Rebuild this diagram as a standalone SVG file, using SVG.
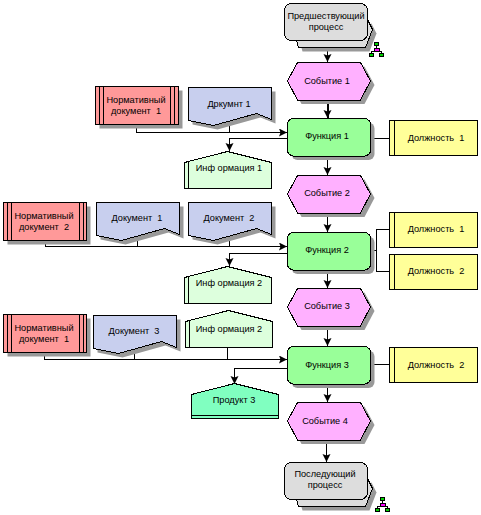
<svg xmlns="http://www.w3.org/2000/svg" width="481" height="515" viewBox="0 0 481 515">
<style>
text{font-family:"Liberation Sans",Arial,sans-serif;font-size:9.2px;fill:#000;text-anchor:middle;white-space:pre}
.o{stroke:#000;stroke-width:1;shape-rendering:crispEdges}
.sh{fill:#999;stroke:none}
.ln{fill:none;stroke:#000;stroke-width:1;shape-rendering:crispEdges}
.ev{fill:#ffb0ff}.fn{fill:#99ff99}.doc{fill:#c8cfee}.nd{fill:#ff9999}.ps{fill:#dddddd}.inf{fill:#ddffdd}.pos{fill:#ffff99}.pr{fill:#80ffc0}
</style>
<defs>
<marker id="a" markerUnits="userSpaceOnUse" markerWidth="10" markerHeight="10" refX="8" refY="4" orient="auto"><path d="M0 0L8 4L0 8L1.500 4Z" fill="#000"/></marker>
<path id="hex" d="M0 18.500L10 0H73L83 18.500L73 37.500H10Z"/>
<rect id="fnp" width="83" height="37.500" rx="6"/>
<path id="docp" d="M0 0H83V32L68 26L25 38L0 33Z"/>
<rect id="ndp" width="83" height="38"/>
<path id="psb" d="M12 37L14 44H81L88 26L83 16Z"/>
<rect id="psf" width="83" height="37" rx="7"/>
<path id="inf" d="M0 11L43 0L87 11V37H0Z"/>
<g id="icon">
<path d="M7.500 3V7M2.500 11V9.500H12.500V11" fill="none" stroke="#000" shape-rendering="crispEdges"/>
<rect x="5.500" y="0.500" width="4" height="3" fill="#00d000" stroke="#000" shape-rendering="crispEdges"/>
<rect x="5.500" y="6.500" width="5" height="3" fill="#ff00ff" stroke="#000" shape-rendering="crispEdges"/>
<rect x="0.500" y="11.500" width="4" height="3" fill="#00d000" stroke="#000" shape-rendering="crispEdges"/>
<rect x="10.500" y="11.500" width="4" height="3" fill="#00d000" stroke="#000" shape-rendering="crispEdges"/>
</g>
</defs>

<g id="connectors">
<path class="ln" d="M327.500 40V62" marker-end="url(#a)"/>
<path class="ln" d="M327.500 99V118" style="stroke-width:2" marker-end="url(#a)"/>
<path class="ln" d="M327.500 156V175" marker-end="url(#a)"/>
<path class="ln" d="M327.500 213V232" marker-end="url(#a)"/>
<path class="ln" d="M327.500 269V288" marker-end="url(#a)"/>
<path class="ln" d="M327.500 326V346" marker-end="url(#a)"/>
<path class="ln" d="M327.500 384V402" marker-end="url(#a)"/>
<path class="ln" d="M326.500 441V462" marker-end="url(#a)"/>
<path class="ln" d="M136.500 124V132.500H287" marker-end="url(#a)"/>
<path class="ln" d="M229.500 120V132.500"/>
<path class="ln" d="M287 138.500H229.500V151" marker-end="url(#a)"/>
<path class="ln" d="M370 138.500H389"/>
<path class="ln" d="M45.500 240V246.500H287" marker-end="url(#a)"/>
<path class="ln" d="M137.500 234V246.500M229.500 234V246.500"/>
<path class="ln" d="M287 253.500H229.500V266" marker-end="url(#a)"/>
<path class="ln" d="M370 250.500H376.500M389 229.500H376.500V271.500H389"/>
<path class="ln" d="M44.500 353V359.500H287" marker-end="url(#a)"/>
<path class="ln" d="M134.500 347V359.500M227.500 348V359.500"/>
<path class="ln" d="M287 368.500H234.500V384" marker-end="url(#a)"/>
<path class="ln" d="M370 364.500H389"/>
</g>

<g id="n-prev">
<use href="#psb" class="sh" transform="translate(288.500 7.500)"/>
<use href="#psb" class="ps o" transform="translate(284.500 3.500)"/>
<use href="#psf" class="ps o" transform="translate(284.500 3.500)"/>
<text x="326" y="19">Предшествующий</text><text x="326" y="30">процесс</text>
<use href="#icon" transform="translate(369 42)"/>
</g>
<g id="n-ev1"><use href="#hex" class="sh" transform="translate(291.500 66.500)"/><use href="#hex" class="ev o" transform="translate(287.500 62.500)"/><text x="327" y="84">Событие 1</text></g>
<g id="n-fn1"><use href="#fnp" class="sh" transform="translate(291.500 122.500)"/><use href="#fnp" class="fn o" transform="translate(287.500 118.500)"/><text x="327" y="139">Функция 1</text></g>
<g id="n-doc1"><use href="#docp" class="sh" transform="translate(192.500 91.500)"/><use href="#docp" class="doc o" transform="translate(188.500 87.500)"/><text x="229" y="107">Дркумнт 1</text></g>
<g id="n-nd1"><use href="#ndp" class="sh" transform="translate(99.500 90.500)"/><use href="#ndp" class="nd o" transform="translate(95.500 86.500)"/><path class="ln" d="M99.500 86.500V124.500M103.500 86.500V124.500M170.500 86.500V124.500M174.500 86.500V124.500"/><text x="136" y="103">Нормативный</text><text x="136" y="114">документ  1</text></g>
<g id="n-inf1"><use href="#inf" class="inf o" transform="translate(184.500 151.500)"/><path class="ln" d="M188.500 161V188"/><text x="229" y="171">Инф ормация 1</text></g>
<g id="n-pos1"><rect class="pos o" x="389.500" y="120.500" width="88" height="35"/><path class="ln" d="M394.500 120.500V155.500"/><text x="436" y="141">Должность  1</text></g>
<g id="n-ev2"><use href="#hex" class="sh" transform="translate(291.500 179.500)"/><use href="#hex" class="ev o" transform="translate(287.500 175.500)"/><text x="327" y="196">Событие 2</text></g>

<g id="n-nd2"><use href="#ndp" class="sh" transform="translate(7.500 206.500)"/><use href="#ndp" class="nd o" transform="translate(3.500 202.500)"/><path class="ln" d="M7.500 202.500V240.500M11.500 202.500V240.500M79.500 202.500V240.500M83.500 202.500V240.500"/><text x="44" y="219">Нормативный</text><text x="44" y="230">документ  2</text></g>
<g id="n-doc2"><use href="#docp" class="sh" transform="translate(100.500 206.500)"/><use href="#docp" class="doc o" transform="translate(96.500 202.500)"/><text x="137" y="221">Документ  1</text></g>
<g id="n-doc3"><use href="#docp" class="sh" transform="translate(192.500 206.500)"/><use href="#docp" class="doc o" transform="translate(188.500 202.500)"/><text x="229" y="221">Документ  2</text></g>
<g id="n-fn2"><use href="#fnp" class="sh" transform="translate(291.500 236.500)"/><use href="#fnp" class="fn o" transform="translate(287.500 232.500)"/><text x="327" y="253">Функция 2</text></g>
<g id="n-pos2"><rect class="pos o" x="389.500" y="212.500" width="88" height="35"/><path class="ln" d="M394.500 212.500V247.500"/><text x="436" y="232">Должность  1</text></g>
<g id="n-pos3"><rect class="pos o" x="389.500" y="254.500" width="88" height="35"/><path class="ln" d="M394.500 254.500V289.500"/><text x="436" y="274">Должность  2</text></g>
<g id="n-inf2"><use href="#inf" class="inf o" transform="translate(184.500 266.500)"/><path class="ln" d="M188.500 276V303"/><text x="229" y="286">Инф ормация 2</text></g>
<g id="n-ev3"><use href="#hex" class="sh" transform="translate(291.500 292.500)"/><use href="#hex" class="ev o" transform="translate(287.500 288.500)"/><text x="327" y="309">Событие 3</text></g>

<g id="n-nd3"><use href="#ndp" class="sh" transform="translate(7.500 318.500)"/><use href="#ndp" class="nd o" transform="translate(3.500 314.500)"/><path class="ln" d="M7.500 314.500V352.500M11.500 314.500V352.500M79.500 314.500V352.500M83.500 314.500V352.500"/><text x="44" y="331">Нормативный</text><text x="44" y="342">документ  1</text></g>
<g id="n-doc4"><use href="#docp" class="sh" transform="translate(97.500 319.500)"/><use href="#docp" class="doc o" transform="translate(93.500 315.500)"/><text x="134" y="334">Документ  3</text></g>
<g id="n-inf3"><use href="#inf" class="inf o" transform="translate(185.500 310.500)"/><path class="ln" d="M189.500 321V347"/><text x="229" y="332">Инф ормация 2</text></g>
<g id="n-fn3"><use href="#fnp" class="sh" transform="translate(291.500 350.500)"/><use href="#fnp" class="fn o" transform="translate(287.500 346.500)"/><text x="327" y="368">Функция 3</text></g>
<g id="n-pos4"><rect class="pos o" x="389.500" y="347.500" width="88" height="35"/><path class="ln" d="M394.500 347.500V382.500"/><text x="436" y="368">Должность  2</text></g>
<g id="n-prod"><path class="pr o" d="M191.500 394.500L234.500 383.500L278.500 394.500V418.500H191.500Z"/><path class="ln" d="M191.500 415.500H278.500"/><text x="234" y="403">Продукт 3</text></g>
<g id="n-ev4"><use href="#hex" class="sh" transform="translate(291.500 406.500)"/><use href="#hex" class="ev o" transform="translate(287.500 402.500)"/><text x="325" y="424">Событие 4</text></g>
<g id="n-next">
<use href="#psb" class="sh" transform="translate(288.500 466.500)"/>
<use href="#psb" class="ps o" transform="translate(284.500 462.500)"/>
<use href="#psf" class="ps o" transform="translate(284.500 462.500)"/>
<text x="325" y="477">Последующий</text><text x="325" y="488">процесс</text>
<use href="#icon" transform="translate(375 497)"/>
</g>
</svg>
